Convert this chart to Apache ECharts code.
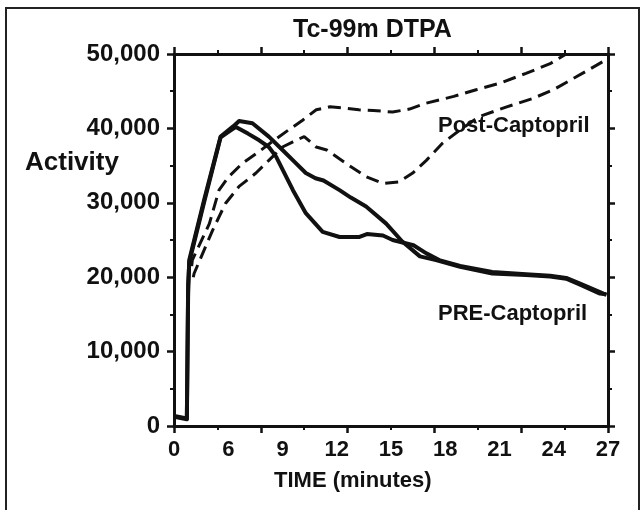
<!DOCTYPE html>
<html>
<head>
<meta charset="utf-8">
<script src="https://cdn.jsdelivr.net/npm/echarts@6/dist/echarts.min.js"></script>
<style>
html,body{margin:0;padding:0;background:#fff;}
#chart{width:642px;height:510px;}
</style>
</head>
<body>
<div id="chart"></div>
<script>
// ---- data (time in minutes, activity in counts) ----
var xTickLabels = ['0','6','9','12','15','18','21','24','27'];
var titleText = 'Tc-99m DTPA';
var yAxisTitle = 'Activity';
var xAxisTitle = 'TIME (minutes)';
var postLabel = 'Post-Captopril';
var preLabel = 'PRE-Captopril';

var preA = [[0.1,1200],[0.8,900],[0.88,18000],[0.95,22300],[1.9,30600],[2.9,38900],[3.3,39600],[3.7,40300],[4.05,41000],[4.88,40700],[5.9,38900],[6.75,37100],[7.5,35500],[8.2,34000],[8.8,33300],[9.3,33000],[10.3,31700],[11.0,30700],[11.95,29500],[13.2,27200],[14.2,24800],[15.3,22800],[16.3,22300],[17.8,21400],[19.8,20500],[21.9,20300],[23.4,20100],[24.4,19800],[25.3,18950],[26.5,17800],[26.9,17700]];
var preB = [[0.1,1300],[0.8,1000],[0.88,19000],[0.95,22000],[1.9,30300],[2.9,38800],[3.3,39400],[3.85,40200],[4.6,39300],[5.3,38400],[5.9,37500],[6.35,36200],[7.4,31700],[8.2,28600],[9.25,26100],[10.3,25400],[11.5,25400],[12.0,25800],[13.0,25600],[13.6,25000],[14.9,24300],[15.7,23200],[16.5,22300],[17.8,21500],[19.8,20700],[21.9,20400],[23.4,20200],[24.4,19900],[25.3,19100],[26.5,18000],[26.9,17600]];
var postC = [[1.1,21500],[1.14,22300],[2.2,27200],[2.8,31700],[3.4,33500],[4.25,35300],[5.3,36900],[6.1,38200],[7.0,39600],[8.0,41100],[8.85,42500],[9.7,42900],[10.7,42700],[11.5,42500],[12.4,42400],[13.6,42200],[14.65,42600],[15.7,43400],[17.4,44300],[18.8,45200],[20.3,46100],[21.9,47400],[23.4,48700],[24.4,50000]];
var postD = [[1.2,20000],[1.25,20500],[2.4,26300],[3.2,29900],[4.05,32200],[5.1,34000],[5.9,35700],[6.75,37500],[7.4,38200],[8.1,38900],[8.85,37500],[9.5,37100],[10.7,35300],[11.95,33500],[13.0,32600],[14.0,32800],[14.85,34000],[15.7,35700],[16.7,38000],[17.8,39800],[19.0,41600],[20.7,42900],[22.3,44000],[23.6,45200],[25.0,46900],[26.3,48500],[26.7,49000]];

var INK = '#111';
var FONT = '"Liberation Sans", Arial, sans-serif';

function boxAxis(pos, isX, showLabel) {
  var ax = {
    type: 'value',
    position: pos,
    min: 0,
    max: isX ? 27 : 50000,
    interval: isX ? 5.4 : 10000,
    axisLine: {show: true, onZero: false, lineStyle: {color: INK, width: 3}},
    axisTick: {show: true, inside: false, length: 7, lineStyle: {color: INK, width: 2.5}},
    minorTick: {show: true, splitNumber: 2, length: 4, lineStyle: {color: INK, width: 2}},
    splitLine: {show: false},
    axisLabel: {show: false}
  };
  if (showLabel) {
    ax.axisLabel = {
      show: true, margin: 14, color: INK, fontFamily: FONT, fontWeight: 'bold', fontSize: 24,
      formatter: function (v) { return v.toLocaleString('en-US'); }
    };
  }
  return ax;
}

var chart = echarts.init(document.getElementById('chart'), null, {renderer: 'canvas'});
var solidStyle = {color: INK, width: 4, type: 'solid', join: 'round'};
var dashStyle = {color: INK, width: 3, type: [13, 7]};

chart.setOption({
  backgroundColor: '#fff',
  animation: false,
  title: {
    text: titleText, left: 293, top: 18, padding: 0,
    textStyle: {color: INK, fontFamily: FONT, fontWeight: 'bold', fontSize: 25}
  },
  grid: {left: 174, right: 34, top: 54, bottom: 84, containLabel: false},
  xAxis: [
    boxAxis('bottom', true, false),
    boxAxis('top', true, false),
    {
      type: 'category', position: 'bottom', data: xTickLabels, boundaryGap: false,
      axisLine: {show: false}, axisTick: {show: false}, splitLine: {show: false},
      axisLabel: {show: true, interval: 0, margin: 13, color: INK, fontFamily: FONT, fontWeight: 'bold', fontSize: 22}
    }
  ],
  yAxis: [
    boxAxis('left', false, true),
    boxAxis('right', false, false)
  ],
  series: [
    {type: 'line', name: 'PRE A', data: preA, xAxisIndex: 0, yAxisIndex: 0, showSymbol: false, symbol: 'none', lineStyle: solidStyle},
    {type: 'line', name: 'PRE B', data: preB, xAxisIndex: 0, yAxisIndex: 0, showSymbol: false, symbol: 'none', lineStyle: solidStyle},
    {type: 'line', name: 'Post C', data: postC, xAxisIndex: 0, yAxisIndex: 0, showSymbol: false, symbol: 'none', lineStyle: dashStyle},
    {type: 'line', name: 'Post D', data: postD, xAxisIndex: 0, yAxisIndex: 0, showSymbol: false, symbol: 'none', lineStyle: dashStyle}
  ],
  graphic: [
    {type: 'rect', shape: {x: 6, y: 8, width: 633, height: 540}, style: {fill: 'none', stroke: '#222', lineWidth: 2}, silent: true},
    {type: 'text', left: 25, top: 150, style: {text: yAxisTitle, fill: INK, font: 'bold 26px ' + FONT}},
    {type: 'text', left: 438, top: 115, style: {text: postLabel, fill: INK, font: 'bold 22px ' + FONT}},
    {type: 'text', left: 438, top: 303, style: {text: preLabel, fill: INK, font: 'bold 22px ' + FONT}},
    {type: 'text', left: 274, top: 470, style: {text: xAxisTitle, fill: INK, font: 'bold 22px ' + FONT}}
  ]
});
</script>
</body>
</html>
